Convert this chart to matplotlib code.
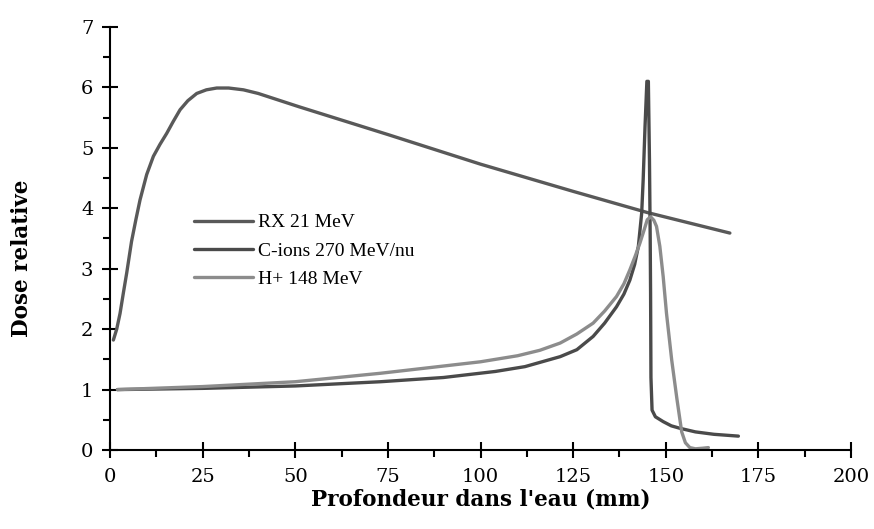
import matplotlib.pyplot as plt
from matplotlib.ticker import MultipleLocator

plt.rcParams['font.family'] = ['DejaVu Serif']

# depth (mm) and relative dose
rx_x = [0.9, 1.8, 2.7, 3.6, 4.5, 5.8, 7, 8.1, 9.9, 11.7, 13.5, 15.3, 17, 18.9, 21, 23.4, 26, 28.8, 32, 36, 40, 45, 51, 75, 100, 125, 145, 167.3]
rx_y = [1.82, 2.0, 2.26, 2.6, 2.93, 3.45, 3.82, 4.14, 4.56, 4.86, 5.06, 5.24, 5.43, 5.63, 5.78, 5.9, 5.96, 5.99, 5.99, 5.96, 5.9, 5.8, 5.68, 5.22, 4.73, 4.28, 3.93, 3.59]

c_x = [2, 25, 50, 73, 90, 104, 112, 121.5, 126, 130.4, 133.5, 136.7, 138.7, 140.3, 141.6, 142.6, 143.5, 143.9, 144.4, 144.9, 145.3, 145.6, 145.8, 145.9, 146.0, 146.3, 147.2, 149.3, 151.5, 153.8, 158, 163, 169.6]
c_y = [1.0, 1.02, 1.06, 1.13, 1.2, 1.3, 1.38, 1.545, 1.66, 1.88, 2.1, 2.37, 2.58, 2.81, 3.07, 3.37, 3.92, 4.47, 5.35, 6.1, 6.1, 4.8, 3.5, 2.6, 1.2, 0.66, 0.55, 0.47, 0.4, 0.36, 0.3, 0.26, 0.23]

h_x = [2, 25, 50, 73, 100, 110, 116, 121.5, 126, 130.4, 133.5, 136.7, 138.7, 140.3, 141.7, 143, 144.2, 145, 145.9, 146.8, 147.5, 148.4, 149.3, 150.2, 151.6, 153, 154.3, 155.3, 156.5, 158, 160, 161.5]
h_y = [1.0, 1.05, 1.13, 1.27, 1.46, 1.56, 1.65, 1.77, 1.92, 2.1, 2.3, 2.54, 2.75, 2.98, 3.2, 3.42, 3.65, 3.81, 3.86, 3.8, 3.7, 3.37, 2.87, 2.26, 1.49, 0.85, 0.3, 0.12, 0.04, 0.02, 0.03, 0.04]

fig = plt.figure(figsize=(8.74, 5.29), dpi=100)
ax = fig.add_axes([0.1259, 0.1493, 0.8478, 0.7997])

ax.plot(rx_x, rx_y, color='#595959', lw=2.4, label='RX 21 MeV', solid_capstyle='round', solid_joinstyle='round')
ax.plot(c_x, c_y, color='#4a4a4a', lw=2.4, label='C-ions 270 MeV/nu', solid_capstyle='round', solid_joinstyle='round')
ax.plot(h_x, h_y, color='#8c8c8c', lw=2.4, label='H+ 148 MeV', solid_capstyle='round', solid_joinstyle='round')

ax.set_xlim(0, 200)
ax.set_ylim(0, 7)
ax.xaxis.set_major_locator(MultipleLocator(25))
ax.xaxis.set_minor_locator(MultipleLocator(12.5))
ax.yaxis.set_major_locator(MultipleLocator(1))
ax.yaxis.set_minor_locator(MultipleLocator(0.5))
ax.tick_params(which='major', direction='inout', length=12, width=1.5, labelsize=14)
ax.tick_params(which='minor', direction='out', length=5, width=1.5)
ax.tick_params(axis='x', which='major', pad=7)
ax.tick_params(axis='y', which='major', pad=6)

for s in ['top', 'right']:
    ax.spines[s].set_visible(False)
for s in ['left', 'bottom']:
    ax.spines[s].set_linewidth(1.5)

ax.set_xlabel("Profondeur dans l'eau (mm)", fontsize=15.5, fontweight='bold', labelpad=2)
ax.set_ylabel('Dose relative', fontsize=15.5, fontweight='bold')
ax.yaxis.set_label_coords(-0.104, 0.454)

ax.legend(loc='upper left', bbox_to_anchor=(0.09, 0.6), frameon=False,
          prop={'family': 'Liberation Serif', 'size': 14},
          handlelength=3.0, handletextpad=0.3, labelspacing=0.55)

fig.savefig('out.png', dpi=100)
